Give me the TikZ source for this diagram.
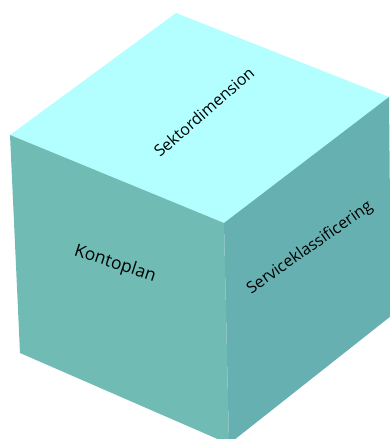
\documentclass[tikz,border=0pt]{standalone}
\usepackage{fontspec}
\setmainfont{Open Sans}
\definecolor{topc}{RGB}{179,255,255}
\definecolor{leftc}{RGB}{112,187,180}
\definecolor{rightc}{RGB}{102,176,177}
\begin{document}
\begin{tikzpicture}[x=1pt,y=-1pt,
  facelabel/.style={font=\fontsize{16}{19}\selectfont, text=black, inner sep=0pt}]
\useasboundingbox (0,0) rectangle (390,439);
\begin{scope}
\clip (0,0) rectangle (390,439);
\coordinate (T) at (176,13);
\coordinate (L) at (10,135);
\coordinate (C) at (224,223);
\coordinate (R) at (389,97);
\coordinate (LB) at (20,353);
\coordinate (B) at (229,444);
\coordinate (RB) at (391,316);
\fill[topc] (T) -- (R) -- (C) -- (L) -- cycle;
\fill[leftc] (L) -- (C) -- (B) -- (LB) -- cycle;
\fill[rightc] (C) -- (R) -- (RB) -- (B) -- cycle;
\end{scope}
\node[facelabel, rotate=41] (top) at (204,112) {Sektordimension};
\node[facelabel, rotate=-18, font=\fontsize{17.5}{20}\selectfont] (left) at (115,264) {Kontoplan};
\node[facelabel, rotate=35] (right) at (310,248) {Serviceklassificering};
\end{tikzpicture}
\end{document}
